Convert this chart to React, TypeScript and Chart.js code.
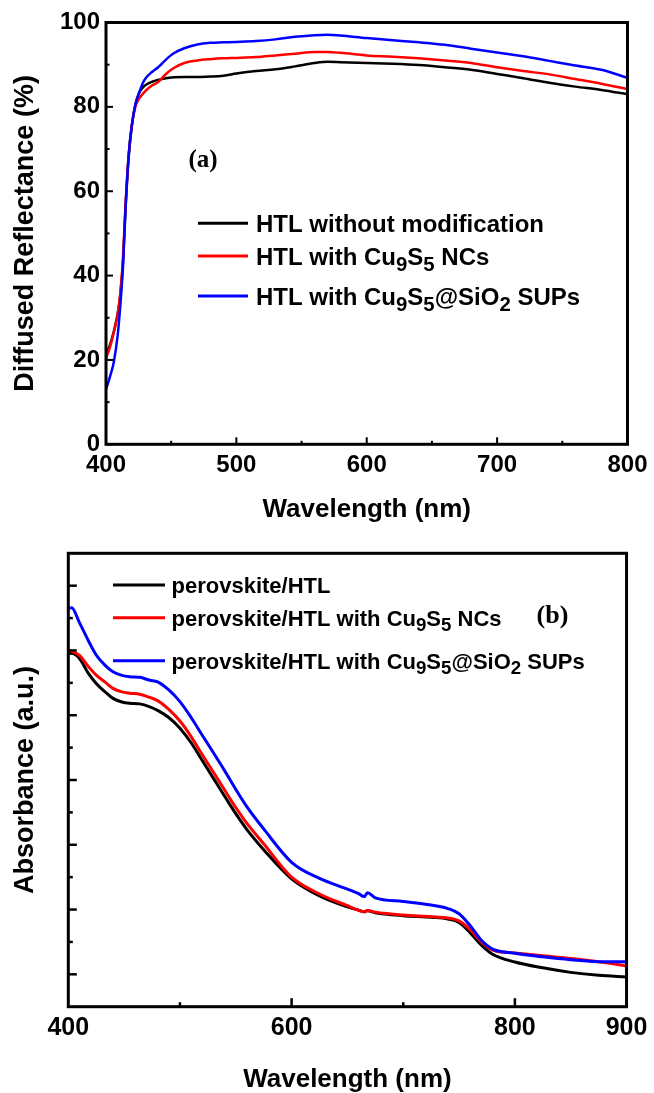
import React, { useEffect, useRef } from 'react';
import { Chart, registerables } from 'chart.js';

Chart.register(...registerables);

const SANS = '"Liberation Sans", Arial, sans-serif';
const SERIF = '"Liberation Serif", "Times New Roman", serif';
const COLORS = ['#000000', '#ff0000', '#0000ff'];

// ---------- Panel (a): diffused reflectance ----------
const wavelengthA = [400, 403, 406, 409, 411, 413, 415, 417.5, 420, 422.5, 425, 428, 431, 435, 440, 446, 452, 460, 470, 480, 490, 500, 515, 530, 545, 560, 570, 580, 600, 620, 640, 660, 680, 700, 720, 740, 760, 780, 800];
const reflPlain = [21.2, 23.5, 26.8, 31, 35.5, 43, 56, 68.5, 76, 80.5, 83, 84.5, 85.3, 85.9, 86.4, 86.8, 87, 87.1, 87.1, 87.2, 87.4, 87.9, 88.5, 88.9, 89.6, 90.4, 90.7, 90.6, 90.4, 90.2, 89.9, 89.4, 88.8, 87.8, 86.8, 85.7, 84.8, 84.0, 83.0];
const reflNC = [20.4, 23, 26.5, 31, 36, 44, 57, 69, 76, 80, 81.8, 83, 84, 85, 85.9, 87.8, 89.2, 90.4, 91, 91.3, 91.5, 91.6, 91.8, 92.2, 92.6, 93.0, 93.0, 92.8, 92.2, 91.9, 91.5, 91.0, 90.4, 89.4, 88.5, 87.7, 86.6, 85.5, 84.2];
const reflSUP = [13, 16, 19.5, 26, 33, 42, 56, 69, 76, 80.5, 83, 85.5, 87, 88.2, 89.4, 91.2, 92.7, 93.9, 94.8, 95.2, 95.3, 95.4, 95.6, 96.0, 96.6, 97.0, 97.1, 96.9, 96.3, 95.8, 95.3, 94.7, 93.8, 92.9, 92.0, 90.9, 89.8, 88.8, 86.9];
const legendA = ['HTL without modification', 'HTL with Cu₉S₅ NCs', 'HTL with Cu₉S₅@SiO₂ SUPs'];
const xTickLabelsA = [400, 500, 600, 700, 800];
const yTickLabelsA = [0, 20, 40, 60, 80, 100];
const xMinorA = [450, 550, 650, 750];
const yMinorA = [10, 30, 50, 70, 90];

// ---------- Panel (b): absorbance ----------
const wavelengthB = [400, 403, 410, 418, 425, 433, 440, 448, 455, 464, 473, 480, 490, 500, 510, 520, 530, 540, 550, 560, 575, 600, 625, 650, 660, 665, 668, 675, 700, 725, 740, 750, 760, 770, 780, 800, 825, 850, 875, 900];
const absPlain = [1.09, 1.091, 1.075, 1.029, 0.998, 0.972, 0.952, 0.941, 0.937, 0.935, 0.926, 0.915, 0.893, 0.86, 0.815, 0.76, 0.705, 0.65, 0.596, 0.547, 0.485, 0.395, 0.342, 0.308, 0.298, 0.293, 0.296, 0.29, 0.281, 0.276, 0.271, 0.26, 0.228, 0.19, 0.162, 0.138, 0.12, 0.106, 0.097, 0.092];
const absNC = [1.101, 1.098, 1.085, 1.05, 1.024, 1.002, 0.983, 0.972, 0.968, 0.965, 0.955, 0.945, 0.918, 0.882, 0.834, 0.778, 0.724, 0.669, 0.615, 0.566, 0.503, 0.4, 0.348, 0.312, 0.298, 0.293, 0.297, 0.292, 0.283, 0.278, 0.274, 0.265, 0.238, 0.2, 0.175, 0.166, 0.157, 0.149, 0.139, 0.126];
const absSUP = [1.23, 1.232, 1.186, 1.13, 1.086, 1.054, 1.034, 1.023, 1.019, 1.017, 1.008, 1.003, 0.978, 0.942, 0.893, 0.838, 0.784, 0.729, 0.671, 0.617, 0.549, 0.446, 0.396, 0.363, 0.349, 0.34, 0.352, 0.336, 0.325, 0.314, 0.303, 0.287, 0.25, 0.205, 0.178, 0.165, 0.154, 0.145, 0.139, 0.139];
const legendB = ['perovskite/HTL', 'perovskite/HTL with Cu₉S₅ NCs', 'perovskite/HTL with Cu₉S₅@SiO₂ SUPs'];
const xTickLabelsB = [400, 600, 800, 900];
const xMajorB = [600, 800];
const xMinorB = [500, 700];
const yMajorB = [0.1, 0.3, 0.5, 0.7, 0.9, 1.1, 1.3];
const yMinorB = [0.2, 0.4, 0.6, 0.8, 1.0, 1.2];

const SUBS: Record<string, string> = { '₀': '0', '₁': '1', '₂': '2', '₃': '3', '₄': '4', '₅': '5', '₆': '6', '₇': '7', '₈': '8', '₉': '9' };

function drawRichText(ctx: CanvasRenderingContext2D, text: string, x: number, y: number, size: number) {
  const runs: { t: string; sub: boolean }[] = [];
  for (const ch of text) {
    const sub = ch in SUBS;
    const c = sub ? SUBS[ch] : ch;
    const last = runs[runs.length - 1];
    if (last && last.sub === sub) last.t += c;
    else runs.push({ t: c, sub });
  }
  let cx = x;
  for (const r of runs) {
    const s = r.sub ? size * 0.85 : size;
    ctx.font = `bold ${s}px ${SANS}`;
    ctx.fillText(r.t, cx, r.sub ? y + size * 0.25 : y);
    cx += ctx.measureText(r.t).width;
  }
}

const decorPlugin = {
  id: 'decor',
  afterDatasetsDraw(chart: any) {
    const o = chart.config.options.plugins.decor;
    const { ctx, chartArea } = chart;
    const { left, right, top, bottom } = chartArea;
    const xs = chart.scales.x;
    const ys = chart.scales.y;
    ctx.save();
    ctx.strokeStyle = '#000';
    ctx.lineCap = 'butt';
    ctx.lineWidth = o.tickWidth;
    const vt = (vals: number[], len: number) =>
      vals.forEach((v) => {
        const p = xs.getPixelForValue(v);
        ctx.beginPath();
        ctx.moveTo(p, bottom);
        ctx.lineTo(p, bottom - len);
        ctx.stroke();
      });
    const ht = (vals: number[], len: number) =>
      vals.forEach((v) => {
        const p = ys.getPixelForValue(v);
        ctx.beginPath();
        ctx.moveTo(left, p);
        ctx.lineTo(left + len, p);
        ctx.stroke();
      });
    vt(o.xMajor, o.majorLen);
    vt(o.xMinor, o.minorLen);
    ht(o.yMajor, o.majorLen);
    ht(o.yMinor, o.minorLen);
    ctx.lineWidth = o.frameWidth;
    ctx.strokeRect(left, top, right - left, bottom - top);

    const lg = o.legend;
    chart.data.datasets.forEach((ds: any, i: number) => {
      const yy = lg.rows[i];
      ctx.strokeStyle = ds.borderColor;
      ctx.lineWidth = lg.lineWidth;
      ctx.beginPath();
      ctx.moveTo(lg.x1, yy);
      ctx.lineTo(lg.x2, yy);
      ctx.stroke();
      ctx.fillStyle = '#000';
      ctx.textAlign = 'left';
      ctx.textBaseline = 'alphabetic';
      drawRichText(ctx, ds.label, lg.textX, yy + lg.size * 0.358, lg.size);
    });

    const pn = o.panel;
    ctx.fillStyle = '#000';
    ctx.font = `bold ${pn.size}px ${SERIF}`;
    ctx.textAlign = 'center';
    ctx.textBaseline = 'middle';
    ctx.fillText(pn.text, pn.x, pn.y);
    ctx.restore();
  },
};

function makeDatasets(xs: number[], series: number[][], labels: string[], width: number) {
  return series.map((arr, i) => ({
    label: labels[i],
    data: xs.map((x, j) => ({ x, y: arr[j] })),
    borderColor: COLORS[i],
    backgroundColor: COLORS[i],
    borderWidth: width,
    pointRadius: 0,
    fill: false,
    cubicInterpolationMode: 'monotone' as const,
    order: 2 - i,
  }));
}

function configA(): any {
  return {
    type: 'line',
    data: { datasets: makeDatasets(wavelengthA, [reflPlain, reflNC, reflSUP], legendA, 2.5) },
    plugins: [decorPlugin],
    options: {
      animation: false,
      responsive: false,
      devicePixelRatio: 1,
      layout: { padding: { top: 22.5, right: 23, left: 0, bottom: 0 } },
      plugins: {
        legend: { display: false },
        tooltip: { enabled: false },
        decor: {
          xMajor: xTickLabelsA, xMinor: xMinorA, yMajor: yTickLabelsA, yMinor: yMinorA,
          majorLen: 7, minorLen: 3.5, tickWidth: 2, frameWidth: 3,
          legend: { x1: 198, x2: 248, textX: 256, rows: [223.3, 256, 296], size: 24, lineWidth: 3 },
          panel: { text: '(a)', x: 203, y: 161, size: 25 },
        },
      },
      scales: {
        x: {
          type: 'linear', min: 400, max: 800,
          afterBuildTicks: (s: any) => { s.ticks = xTickLabelsA.map((v) => ({ value: v })); },
          afterFit: (s: any) => { s.height = 95.7; },
          grid: { display: false, drawTicks: false },
          border: { display: false },
          ticks: { padding: 6.5, autoSkip: false, maxRotation: 0, color: '#000', font: { family: SANS, size: 24, weight: 'bold' } },
          title: { display: true, text: 'Wavelength (nm)', color: '#000', font: { family: SANS, size: 26, weight: 'bold', lineHeight: 1.2 }, padding: { top: 0, bottom: 15 } },
        },
        y: {
          type: 'linear', min: 0, max: 100,
          afterBuildTicks: (s: any) => { s.ticks = yTickLabelsA.map((v) => ({ value: v })); },
          afterFit: (s: any) => { s.width = 106; },
          grid: { display: false, drawTicks: false },
          border: { display: false },
          ticks: { padding: 6, color: '#000', font: { family: SANS, size: 24, weight: 'bold' } },
          title: { display: true, text: 'Diffused Reflectance (%)', color: '#000', font: { family: SANS, size: 27, weight: 'bold', lineHeight: 1.2 }, padding: { top: 9.8, bottom: 0 } },
        },
      },
    },
  };
}

function configB(): any {
  return {
    type: 'line',
    data: { datasets: makeDatasets(wavelengthB, [absPlain, absNC, absSUP], legendB, 3) },
    plugins: [decorPlugin],
    options: {
      animation: false,
      responsive: false,
      devicePixelRatio: 1,
      layout: { padding: { top: 13.3, right: 23, left: 0, bottom: 0 } },
      plugins: {
        legend: { display: false },
        tooltip: { enabled: false },
        decor: {
          xMajor: xMajorB, xMinor: xMinorB, yMajor: yMajorB, yMinor: yMinorB,
          majorLen: 8.5, minorLen: 4.5, tickWidth: 2.5, frameWidth: 3,
          legend: { x1: 113, x2: 165, textX: 171.5, rows: [45, 77.7, 120.8], size: 22, lineWidth: 3 },
          panel: { text: '(b)', x: 552.5, y: 76, size: 26 },
        },
      },
      scales: {
        x: {
          type: 'linear', min: 400, max: 900,
          afterBuildTicks: (s: any) => { s.ticks = xTickLabelsB.map((v) => ({ value: v })); },
          afterFit: (s: any) => { s.height = 86.3; },
          grid: { display: false, drawTicks: false },
          border: { display: false },
          ticks: { padding: 6.6, autoSkip: false, maxRotation: 0, color: '#000', font: { family: SANS, size: 25, weight: 'bold' } },
          title: { display: true, text: 'Wavelength (nm)', color: '#000', font: { family: SANS, size: 26, weight: 'bold', lineHeight: 1 }, padding: { top: 0, bottom: 0 } },
        },
        y: {
          type: 'linear', min: 0, max: 1.4,
          afterFit: (s: any) => { s.width = 68.3; },
          grid: { display: false, drawTicks: false },
          border: { display: false },
          ticks: { display: false },
          title: { display: true, text: 'Absorbance (a.u.)', color: '#000', font: { family: SANS, size: 27, weight: 'bold', lineHeight: 1.2 }, padding: { top: 9.8, bottom: 0 } },
        },
      },
    },
  };
}

function ChartCanvas({ width, height, make }: { width: number; height: number; make: () => any }) {
  const ref = useRef<HTMLCanvasElement>(null);
  useEffect(() => {
    const chart = new Chart(ref.current as HTMLCanvasElement, make());
    return () => chart.destroy();
  }, []);
  return <canvas ref={ref} width={width} height={height} style={{ display: 'block', width, height }} />;
}

export default function App() {
  return (
    <div style={{ position: 'absolute', left: 0, top: 0, width: 654, height: 1093, background: '#fff' }}>
      <div style={{ position: 'absolute', left: 0, top: 0, width: 654, height: 540 }}>
        <ChartCanvas width={654} height={540} make={configA} />
      </div>
      <div style={{ position: 'absolute', left: 0, top: 540, width: 654, height: 553 }}>
        <ChartCanvas width={654} height={553} make={configB} />
      </div>
    </div>
  );
}
